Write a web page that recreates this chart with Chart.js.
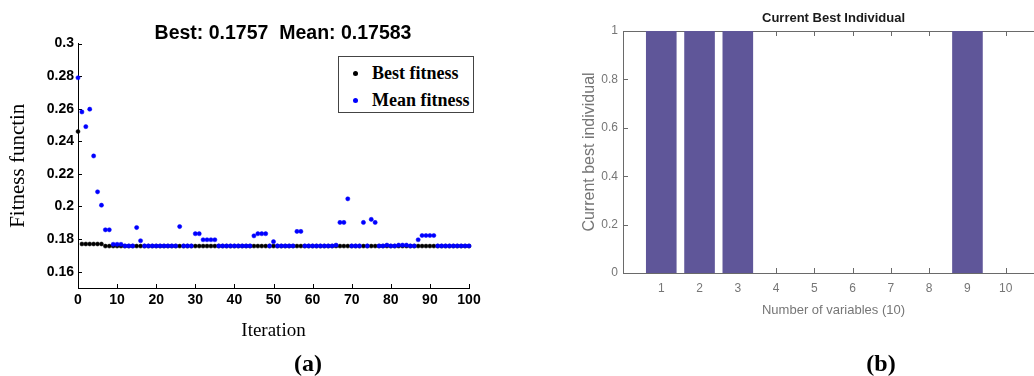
<!DOCTYPE html>
<html>
<head>
<meta charset="utf-8">
<script src="https://cdn.jsdelivr.net/npm/chart.js@4.4.1/dist/chart.umd.min.js"></script>
<style>
    html, body { margin: 0; padding: 0; background: #fff; }
    body { width: 1034px; height: 376px; position: relative; overflow: hidden; }
    #fitness-chart { position: absolute; left: 0; top: 0; }
    #individual-chart { position: absolute; left: 540px; top: 0; }
    .legend {
        position: absolute; left: 338px; top: 56px; width: 134px; height: 55px;
        border: 1px solid #444; background: #fff;
        font: bold 18px "Liberation Serif", "Times New Roman", serif; color: #000;
    }
    .legend .row { position: absolute; left: 0; height: 20px; line-height: 20px; white-space: nowrap; }
    .legend .dot { position: absolute; left: 14px; top: 8px; width: 5px; height: 5px; border-radius: 50%; }
    .legend .label { position: absolute; left: 33px; top: 0; }
    .caption {
        position: absolute; top: 363px; transform: translate(-50%, -50%);
        font: bold 24px "Liberation Serif", "Times New Roman", serif; color: #000;
    }
</style>
</head>
<body>
<canvas id="fitness-chart" width="566" height="376"></canvas>
<canvas id="individual-chart" width="520" height="376"></canvas>

<div class="legend">
    <div class="row" style="top:6px"><span class="dot" style="background:#000"></span><span class="label">Best fitness</span></div>
    <div class="row" style="top:33px"><span class="dot" style="background:#0000ff"></span><span class="label">Mean fitness</span></div>
</div>
<div class="caption" style="left:308px">(a)</div>
<div class="caption" style="left:881px">(b)</div>

<script>
// --- panel (a): GA fitness per iteration ---
const iterations = [
    0, 1, 2, 3, 4, 5, 6, 7, 8, 9,
    10, 11, 12, 13, 14, 15, 16, 17, 18, 19,
    20, 21, 22, 23, 24, 25, 26, 27, 28, 29,
    30, 31, 32, 33, 34, 35, 36, 37, 38, 39,
    40, 41, 42, 43, 44, 45, 46, 47, 48, 49,
    50, 51, 52, 53, 54, 55, 56, 57, 58, 59,
    60, 61, 62, 63, 64, 65, 66, 67, 68, 69,
    70, 71, 72, 73, 74, 75, 76, 77, 78, 79,
    80, 81, 82, 83, 84, 85, 86, 87, 88, 89,
    90, 91, 92, 93, 94, 95, 96, 97, 98, 99,
    100
];

const bestFitness = [
    0.246, 0.177, 0.177, 0.177, 0.177, 0.177, 0.177, 0.1757, 0.1757, 0.1757,
    0.1757, 0.1757, 0.1757, 0.1757, 0.1757, 0.1757, 0.1757, 0.1757, 0.1757, 0.1757,
    0.1757, 0.1757, 0.1757, 0.1757, 0.1757, 0.1757, 0.1757, 0.1757, 0.1757, 0.1757,
    0.1757, 0.1757, 0.1757, 0.1757, 0.1757, 0.1757, 0.1757, 0.1757, 0.1757, 0.1757,
    0.1757, 0.1757, 0.1757, 0.1757, 0.1757, 0.1757, 0.1757, 0.1757, 0.1757, 0.1757,
    0.1757, 0.1757, 0.1757, 0.1757, 0.1757, 0.1757, 0.1757, 0.1757, 0.1757, 0.1757,
    0.1757, 0.1757, 0.1757, 0.1757, 0.1757, 0.1757, 0.1757, 0.1757, 0.1757, 0.1757,
    0.1757, 0.1757, 0.1757, 0.1757, 0.1757, 0.1757, 0.1757, 0.1757, 0.1757, 0.1757,
    0.1757, 0.1757, 0.1757, 0.1757, 0.1757, 0.1757, 0.1757, 0.1757, 0.1757, 0.1757,
    0.1757, 0.1757, 0.1757, 0.1757, 0.1757, 0.1757, 0.1757, 0.1757, 0.1757, 0.1757,
    0.1757
];

const meanFitness = [
    0.279, 0.258, 0.249, 0.2597, 0.231, 0.209, 0.2008, 0.1857, 0.1857, 0.1768,
    0.1768, 0.1768, 0.1758, 0.1758, 0.1758, 0.1871, 0.179, 0.1758, 0.1758, 0.1758,
    0.1758, 0.1758, 0.1758, 0.1758, 0.1758, 0.1758, 0.1877, 0.1758, 0.1758, 0.1758,
    0.1833, 0.1833, 0.1796, 0.1796, 0.1796, 0.1796, 0.1758, 0.1758, 0.1758, 0.1758,
    0.1758, 0.1758, 0.1758, 0.1758, 0.1758, 0.182, 0.1833, 0.1833, 0.1833, 0.1758,
    0.1784, 0.1758, 0.1758, 0.1758, 0.1758, 0.1758, 0.1847, 0.1847, 0.1758, 0.1758,
    0.1758, 0.1758, 0.1758, 0.1758, 0.1758, 0.1758, 0.1763, 0.1902, 0.1902, 0.2047,
    0.1758, 0.1758, 0.1758, 0.1902, 0.1758, 0.1921, 0.1902, 0.1758, 0.1758, 0.1763,
    0.1758, 0.1758, 0.1763, 0.1763, 0.1763, 0.1758, 0.1758, 0.1796, 0.1822, 0.1822,
    0.1822, 0.1822, 0.1758, 0.1758, 0.1758, 0.1758, 0.1758, 0.1758, 0.1758, 0.1758,
    0.1758
];

const iterationTicks = [0, 10, 20, 30, 40, 50, 60, 70, 80, 90, 100];
const fitnessTicks = [0.16, 0.18, 0.2, 0.22, 0.24, 0.26, 0.28, 0.3];
const fitnessTitle = "Best: 0.1757  Mean: 0.17583";

// --- panel (b): current best individual ---
const variables = [1, 2, 3, 4, 5, 6, 7, 8, 9, 10];
const bestIndividual = [1, 1, 1, 0, 0, 0, 0, 0, 1, 0];
const individualTicks = [0, 0.2, 0.4, 0.6, 0.8, 1];

const SANS = '"Liberation Sans", Arial, Helvetica, sans-serif';
const SERIF = '"Liberation Serif", "Times New Roman", serif';

Chart.defaults.font.family = SANS;

// MATLAB-style tick marks drawn inwards, plus the optional top box edge.
const insideTicks = {
    id: "insideTicks",
    beforeDatasetsDraw(chart, args, opts) {
        const { ctx, chartArea: a, scales: { x, y } } = chart;
        const len = opts.len || 4;
        ctx.save();
        ctx.strokeStyle = opts.color || "#000";
        ctx.lineWidth = 1;
        ctx.beginPath();
        for (const t of x.ticks) {
            const px = Math.round(x.getPixelForValue(t.value)) + 0.5;
            ctx.moveTo(px, a.bottom);
            ctx.lineTo(px, a.bottom - len);
            if (opts.box) {
                ctx.moveTo(px, a.top);
                ctx.lineTo(px, a.top + len);
            }
        }
        for (const t of y.ticks) {
            const py = Math.round(y.getPixelForValue(t.value)) + 0.5;
            ctx.moveTo(a.left, py);
            ctx.lineTo(a.left + len, py);
        }
        if (opts.box) {
            const top = Math.round(a.top) + 0.5;
            ctx.moveTo(a.left, top);
            ctx.lineTo(a.right, top);
        }
        ctx.stroke();
        ctx.restore();
    },
};

function toPoints(xs, ys) {
    return xs.map((v, i) => ({ x: v, y: ys[i] }));
}

function fixTicks(values) {
    return scale => { scale.ticks = values.map(v => ({ value: v })); };
}

// no built-in tick marks: grid.drawTicks would push the labels 8px away
const noGrid = { display: false, drawTicks: false, tickLength: 0 };

new Chart(document.getElementById("fitness-chart"), {
    type: "scatter",
    data: {
        datasets: [
            {
                label: "Best fitness",
                data: toPoints(iterations, bestFitness),
                backgroundColor: "#000",
                borderColor: "#000",
                pointRadius: 2,
                pointBorderWidth: 0.5,
                clip: false,
                order: 1,
            },
            {
                label: "Mean fitness",
                data: toPoints(iterations, meanFitness),
                backgroundColor: "#0000ff",
                borderColor: "#0000ff",
                pointRadius: 2.1,
                pointBorderWidth: 0.5,
                clip: false,
                order: 0,
            },
        ],
    },
    plugins: [insideTicks],
    options: {
        responsive: false,
        animation: false,
        devicePixelRatio: 1,
        layout: { padding: 0 },
        plugins: {
            legend: { display: false },
            tooltip: { enabled: false },
            title: {
                display: true,
                text: fitnessTitle,
                color: "#000",
                font: { family: SANS, size: 19.5, weight: "bold", lineHeight: 1 },
                padding: { top: 24, bottom: 0 },
            },
            insideTicks: { color: "#000", len: 4, box: false },
        },
        scales: {
            x: {
                type: "linear",
                min: 0,
                max: 100,
                afterBuildTicks: fixTicks(iterationTicks),
                afterFit: s => { s.height = 88; },
                grid: noGrid,
                border: { display: true, color: "#000", width: 1 },
                ticks: {
                    color: "#000",
                    padding: 4,
                    maxRotation: 0,
                    autoSkip: false,
                    font: { family: SANS, size: 14, weight: "bold" },
                },
                title: {
                    display: true,
                    text: "Iteration",
                    color: "#000",
                    font: { family: SERIF, size: 19, lineHeight: 1 },
                    padding: { top: 0, bottom: 35 },
                },
            },
            y: {
                min: 0.15,
                max: 0.3,
                afterBuildTicks: fixTicks(fitnessTicks),
                afterFit: s => { s.width = 78; },
                grid: noGrid,
                border: { display: true, color: "#000", width: 1 },
                ticks: {
                    color: "#000",
                    padding: 4,
                    font: { family: SANS, size: 14, weight: "bold" },
                    callback: v => String(+v.toFixed(2)),
                },
                title: {
                    display: true,
                    text: "Fitness functin",
                    color: "#000",
                    font: { family: SERIF, size: 21, lineHeight: 1 },
                    padding: { top: 8, bottom: 0 },
                },
            },
            // empty right-hand box: keeps the plot narrower than the title span
            spacer: {
                position: "right",
                afterFit: s => { s.width = 97; },
                grid: noGrid,
                border: { display: false },
                ticks: { display: false },
            },
        },
    },
});

const GRAY_TEXT = "#767676";
const GRAY_LINE = "#6a6a6a";

new Chart(document.getElementById("individual-chart"), {
    type: "bar",
    data: {
        datasets: [{
            label: "Current best individual",
            data: toPoints(variables, bestIndividual),
            backgroundColor: "#5f5699",
            borderWidth: 0,
            categoryPercentage: 1,
            barPercentage: 0.8,
        }],
    },
    plugins: [insideTicks],
    options: {
        responsive: false,
        animation: false,
        devicePixelRatio: 1,
        layout: { padding: { left: 0, right: 16, top: 0, bottom: 0 } },
        plugins: {
            legend: { display: false },
            tooltip: { enabled: false },
            title: {
                display: true,
                fullSize: false,
                text: "Current Best Individual",
                color: "#1a1a1a",
                font: { family: SANS, size: 13, weight: "bold", lineHeight: 1 },
                padding: { top: 12, bottom: 6 },
            },
            insideTicks: { color: GRAY_LINE, len: 5, box: true },
        },
        scales: {
            x: {
                type: "linear",
                min: 0,
                max: 11,
                offset: false,
                afterBuildTicks: fixTicks(variables),
                afterFit: s => { s.height = 103; },
                grid: noGrid,
                border: { display: true, color: GRAY_LINE, width: 1 },
                ticks: {
                    color: GRAY_TEXT,
                    padding: 8,
                    maxRotation: 0,
                    autoSkip: false,
                    font: { family: SANS, size: 12 },
                },
                title: {
                    display: true,
                    text: "Number of variables (10)",
                    color: GRAY_TEXT,
                    font: { family: SANS, size: 13, lineHeight: 1 },
                    padding: { top: 0, bottom: 59 },
                },
            },
            y: {
                min: 0,
                max: 1,
                afterBuildTicks: fixTicks(individualTicks),
                afterFit: s => { s.width = 83; },
                grid: noGrid,
                border: { display: true, color: GRAY_LINE, width: 1 },
                ticks: {
                    color: GRAY_TEXT,
                    padding: 5,
                    font: { family: SANS, size: 12 },
                    callback: v => String(+v.toFixed(1)),
                },
                title: {
                    display: true,
                    text: "Current best individual",
                    color: GRAY_TEXT,
                    font: { family: SANS, size: 16, lineHeight: 1 },
                    padding: { top: 42, bottom: 0 },
                },
            },
        },
    },
});
</script>
</body>
</html>
